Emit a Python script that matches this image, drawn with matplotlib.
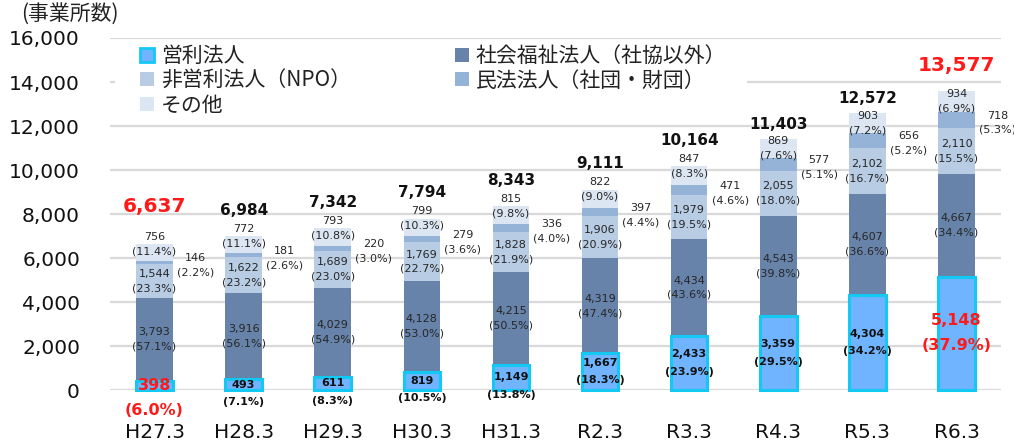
import matplotlib
matplotlib.use('Agg')
import matplotlib.pyplot as plt
from matplotlib.patches import Patch, Rectangle
import numpy as np

plt.rcParams['font.family'] = ['DejaVu Sans', 'Noto Sans CJK JP']

categories = ['H27.3', 'H28.3', 'H29.3', 'H30.3', 'H31.3', 'R2.3', 'R3.3', 'R4.3', 'R5.3', 'R6.3']
forprofit = [398, 493, 611, 819, 1149, 1667, 2433, 3359, 4304, 5148]
social_welfare = [3793, 3916, 4029, 4128, 4215, 4319, 4434, 4543, 4607, 4667]
npo = [1544, 1622, 1689, 1769, 1828, 1906, 1979, 2055, 2102, 2110]
civil = [146, 181, 220, 279, 336, 397, 471, 577, 656, 718]
other = [756, 772, 793, 799, 815, 822, 847, 869, 903, 934]
totals = [6637, 6984, 7342, 7794, 8343, 9111, 10164, 11403, 12572, 13577]
pct_forprofit = [6.0, 7.1, 8.3, 10.5, 13.8, 18.3, 23.9, 29.5, 34.2, 37.9]
pct_social = [57.1, 56.1, 54.9, 53.0, 50.5, 47.4, 43.6, 39.8, 36.6, 34.4]
pct_npo = [23.3, 23.2, 23.0, 22.7, 21.9, 20.9, 19.5, 18.0, 16.7, 15.5]
pct_civil = [2.2, 2.6, 3.0, 3.6, 4.0, 4.4, 4.6, 5.1, 5.2, 5.3]
pct_other = [11.4, 11.1, 10.8, 10.3, 9.8, 9.0, 8.3, 7.6, 7.2, 6.9]
series_names = ['営利法人', '社会福祉法人（社協以外）', '非営利法人（NPO）', '民法法人（社団・財団）', 'その他']
y_ticks = [0, 2000, 4000, 6000, 8000, 10000, 12000, 14000, 16000]
y_title = '(事業所数)'
highlight = [0, 9]

c_fp, c_fp_edge = '#70b4ff', '#14c8f4'
c_soc = '#6783aa'
c_npo = '#b8cce4'
c_civ = '#95b3d7'
c_oth = '#dce6f2'
txt = '#262626'
red = '#ff1a1a'
jp = ['Noto Sans CJK JP', 'DejaVu Sans']

fig = plt.figure(figsize=(10.14, 4.48), dpi=100)
ax = fig.add_axes([110 / 1014, 1 - 390 / 448, 891 / 1014, 352 / 448])

x = np.arange(len(categories))
w = 0.41
fp = np.array(forprofit)
soc = np.array(social_welfare)
np_ = np.array(npo)
civ = np.array(civil)
oth = np.array(other)

b1 = fp
b2 = b1 + soc
b3 = b2 + np_
b4 = b3 + civ

ax.bar(x, soc, w, bottom=b1, color=c_soc, zorder=2)
ax.bar(x, np_, w, bottom=b2, color=c_npo, zorder=2)
ax.bar(x, civ, w, bottom=b3, color=c_civ, zorder=2)
ax.bar(x, oth, w, bottom=b4, color=c_oth, zorder=2)
ax.bar(x, fp, w, color=c_fp, edgecolor=c_fp_edge, linewidth=2.2, zorder=3, clip_on=False)

ax.set_xlim(-0.5, len(categories) - 0.5)
ax.set_ylim(0, 16000)
ax.set_yticks(y_ticks)
ax.set_yticklabels([f'{v:,}' for v in y_ticks], fontsize=14.5, color='#111111')
ax.set_xticks(x)
ax.set_xticklabels(categories, fontsize=14.5, color='#111111')
ax.tick_params(axis='both', length=0)
ax.tick_params(axis='y', pad=21.6)
ax.tick_params(axis='x', pad=24)
for s in ax.spines.values():
    s.set_visible(False)
ax.yaxis.grid(True, color='#d9d9d9', linewidth=1.6, zorder=0)
ax.set_axisbelow(True)


def lab(xv, yv, s, dy=0, **kw):
    kw.setdefault('fontsize', 8)
    kw.setdefault('color', txt)
    ax.annotate(s, (xv, yv), xytext=(0, dy), textcoords='offset pixels',
                ha='center', va='center', zorder=5, annotation_clip=False, **kw)


for i in range(len(categories)):
    # social welfare
    lab(x[i], b1[i] + soc[i] / 2, f'{soc[i]:,}\n({pct_social[i]:.1f}%)', linespacing=1.55)
    # npo
    lab(x[i], b2[i] + np_[i] / 2, f'{np_[i]:,}\n({pct_npo[i]:.1f}%)', linespacing=1.55)
    # civil (to the right)
    lab(x[i] + 0.46, b3[i] + civ[i] / 2, f'{civ[i]:,}\n({pct_civil[i]:.1f}%)', dy=-3, linespacing=1.55)
    # other
    if oth[i] < 860:
        oy = totals[i]
        tot_dy = 26
    else:
        oy = b4[i] + oth[i] / 2
        tot_dy = 15
    lab(x[i], oy, f'{oth[i]:,}\n({pct_other[i]:.1f}%)', linespacing=1.55)
    # for-profit
    hl = i in highlight
    fs = 11.5 if hl else 8
    col = red if hl else '#111111'
    gap = 25 if hl else 17.5
    if fp[i] < 1500:
        lab(x[i], fp[i] / 2, f'{fp[i]:,}', fontsize=fs, color=col, fontweight='bold')
        lab(x[i], fp[i] / 2, f'({pct_forprofit[i]:.1f}%)', dy=-gap, fontsize=fs, color=col, fontweight='bold')
    else:
        lab(x[i], fp[i] / 2, f'{fp[i]:,}', dy=gap / 2, fontsize=fs, color=col, fontweight='bold')
        lab(x[i], fp[i] / 2, f'({pct_forprofit[i]:.1f}%)', dy=-gap / 2, fontsize=fs, color=col, fontweight='bold')
    # totals
    if hl:
        lab(x[i], totals[i], f'{totals[i]:,}', dy=tot_dy + 11, fontsize=14.5, color=red, fontweight='bold')
    else:
        lab(x[i], totals[i], f'{totals[i]:,}', dy=tot_dy, fontsize=11, color='#111111', fontweight='bold')

# white box behind legend
ax.add_patch(Rectangle((115 / 1014, 1 - 116 / 448), 632 / 1014, 72 / 448,
                       transform=fig.transFigure, facecolor='white', edgecolor='none',
                       zorder=1.5, clip_on=False))

handles = [
    Patch(facecolor=c_fp, edgecolor=c_fp_edge, linewidth=2),
    Patch(facecolor=c_npo, edgecolor='none'),
    Patch(facecolor=c_oth, edgecolor='none'),
    Patch(facecolor=c_soc, edgecolor='none'),
    Patch(facecolor=c_civ, edgecolor='none'),
]
labels = [series_names[0], series_names[2], series_names[4], series_names[1], series_names[3]]
leg = fig.legend(handles, labels, loc='upper left', bbox_to_anchor=(140 / 1014, 1 - 45 / 448),
                 ncol=2, frameon=False, borderpad=0, borderaxespad=0,
                 prop={'family': jp, 'size': 15}, handlelength=0.65, handleheight=0.65,
                 handletextpad=0.35, labelspacing=0.13, columnspacing=5.0)
for t in leg.get_texts():
    t.set_color('#222222')

fig.text(21 / 1014, 1 - 14 / 448, y_title, fontsize=15, family=jp, color='#222222',
         ha='left', va='center')

fig.savefig('out.png', dpi=100)
